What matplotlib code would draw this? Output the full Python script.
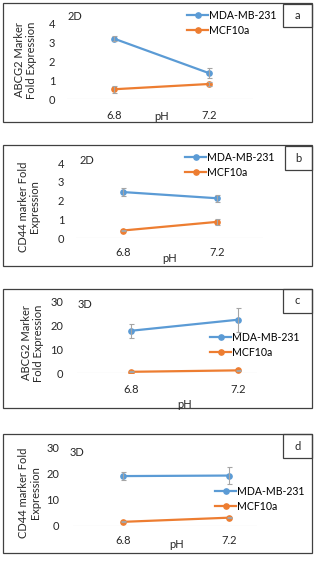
import matplotlib
matplotlib.use("Agg")
import matplotlib.pyplot as plt
from matplotlib.patches import Rectangle

plt.rcParams["font.family"] = ["Lato", "DejaVu Sans"]

W, H = 315, 565
BLUE = "#5B9BD5"
ORANGE = "#ED7D31"
TXT = "#262626"
ERR = "#A5A5A5"
EDGE = "#404040"
FS = 8

ph_labels = ["6.8", "7.2"]
series_names = ["MDA-MB-231", "MCF10a"]

# panel a: ABCG2, 2D
a_mda = [3.22, 1.38]
a_mda_err = [0.15, 0.25]
a_mcf = [0.52, 0.80]
a_mcf_err = [0.20, 0.10]

# panel b: CD44, 2D
b_mda = [2.45, 2.12]
b_mda_err = [0.20, 0.20]
b_mcf = [0.40, 0.86]
b_mcf_err = [0.05, 0.15]

# panel c: ABCG2, 3D
c_mda = [17.6, 22.2]
c_mda_err = [3.0, 5.0]
c_mcf = [0.5, 1.1]
c_mcf_err = [0.2, 0.3]

# panel d: CD44, 3D
d_mda = [19.2, 19.4]
d_mda_err = [1.5, 3.3]
d_mcf = [1.6, 3.2]
d_mcf_err = [0.2, 0.3]

fig = plt.figure(figsize=(W / 100, H / 100), dpi=100)


def fx(px):
    return px / W


def fy(py):
    return 1 - py / H


def panel(box, ax_px, ymax, yticks, mda, mda_err, mcf, mcf_err,
          ylab, dim, dim_xy, tag, tag_box, leg_xy, tick_pad, ph_xy, ylab_xy, ypad):
    # outer frame
    x0, y0, x1, y1 = box
    fig.patches.append(Rectangle((fx(x0), fy(y1)), fx(x1 - x0), (y1 - y0) / H,
                                 transform=fig.transFigure, fill=False,
                                 edgecolor=EDGE, linewidth=0.9))
    # panel letter box
    tx0, ty0, tx1, ty1 = tag_box
    fig.patches.append(Rectangle((fx(tx0), fy(ty1)), fx(tx1 - tx0), (ty1 - ty0) / H,
                                 transform=fig.transFigure, fill=False,
                                 edgecolor=EDGE, linewidth=0.9))
    fig.text(fx((tx0 + tx1) / 2), fy((ty0 + ty1) / 2), tag, ha="center", va="center",
             fontsize=FS, color=TXT)

    left, right, p0, p1, base, top = ax_px
    sp = p1 - p0
    ax = fig.add_axes([fx(left), fy(base), fx(right - left), (base - top) / H])
    ax.set_xlim(-(p0 - left) / sp, 1 + (right - p1) / sp)
    ax.set_ylim(0, ymax)
    ax.patch.set_alpha(0)
    for s in ax.spines.values():
        s.set_visible(False)
    ax.axhline(0, color="#D9D9D9", linewidth=0.8, zorder=1)

    x = [0, 1]
    l1, = ax.plot(x, mda, color=BLUE, lw=1.6, marker="o", ms=3.8, zorder=3,
                  label=series_names[0])
    l2, = ax.plot(x, mcf, color=ORANGE, lw=1.6, marker="o", ms=3.8, zorder=3,
                  label=series_names[1])
    ax.errorbar(x, mda, yerr=mda_err, fmt="none", ecolor=ERR, elinewidth=0.8,
                capsize=1.8, capthick=0.8, zorder=4)
    ax.errorbar(x, mcf, yerr=mcf_err, fmt="none", ecolor=ERR, elinewidth=0.8,
                capsize=1.8, capthick=0.8, zorder=4)

    ax.set_xticks(x)
    ax.set_xticklabels(ph_labels)
    ax.set_yticks(yticks)
    ax.tick_params(length=0, labelsize=FS, colors=TXT)
    ax.tick_params(axis="x", pad=tick_pad)
    ax.tick_params(axis="y", pad=ypad)

    fig.text(fx(ph_xy[0]), fy(ph_xy[1]), "pH", ha="center", va="center",
             fontsize=FS, color=TXT)
    fig.text(fx(ylab_xy[0]), fy(ylab_xy[1]), ylab, ha="center", va="center",
             rotation=90, fontsize=FS, color=TXT, linespacing=1.1)
    fig.text(fx(dim_xy[0]), fy(dim_xy[1]), dim, ha="left", va="center",
             fontsize=FS, color=TXT)

    fig.legend(handles=[l1, l2], loc="upper left",
               bbox_to_anchor=(fx(leg_xy[0]), fy(leg_xy[1])),
               frameon=False, fontsize=7.6, handlelength=2.0, handletextpad=0.12,
               borderpad=0, borderaxespad=0, labelspacing=0.35)


panel((3, 3, 312, 122), (67, 253, 114, 209, 99, 24), 4, [0, 1, 2, 3, 4],
      a_mda, a_mda_err, a_mcf, a_mcf_err,
      "ABCG2 Marker\nFold Expression", "2D", (68, 16), "a", (283, 4, 312, 27),
      (187, 10), 8.2, (162, 116), (25.5, 60), 8.4)

panel((3, 145, 312, 266), (76, 263, 123, 217, 238, 163), 4, [0, 1, 2, 3, 4],
      b_mda, b_mda_err, b_mcf, b_mcf_err,
      "CD44 marker Fold\nExpression", "2D", (80, 160), "b", (285, 146, 312, 170),
      (185, 152), 6.8, (170, 258), (29, 207), 8.4)

panel((3, 289, 312, 408), (77, 257, 131, 238, 373, 301), 30, [0, 10, 20, 30],
      c_mda, c_mda_err, c_mcf, c_mcf_err,
      "ABCG2 Marker\nFold Expression", "3D", (78, 304), "c", (283, 289, 312, 313),
      (210, 332), 8.2, (185, 404), (32.5, 343), 10.0)

panel((3, 434, 312, 553), (73, 257, 123, 229, 526, 448), 30, [0, 10, 20, 30],
      d_mda, d_mda_err, d_mcf, d_mcf_err,
      "CD44 marker Fold\nExpression", "3D", (70, 452), "d", (283, 434, 312, 458),
      (215, 486), 6.8, (177, 545), (29.5, 493), 10.0)

fig.savefig("out.png", dpi=100)
